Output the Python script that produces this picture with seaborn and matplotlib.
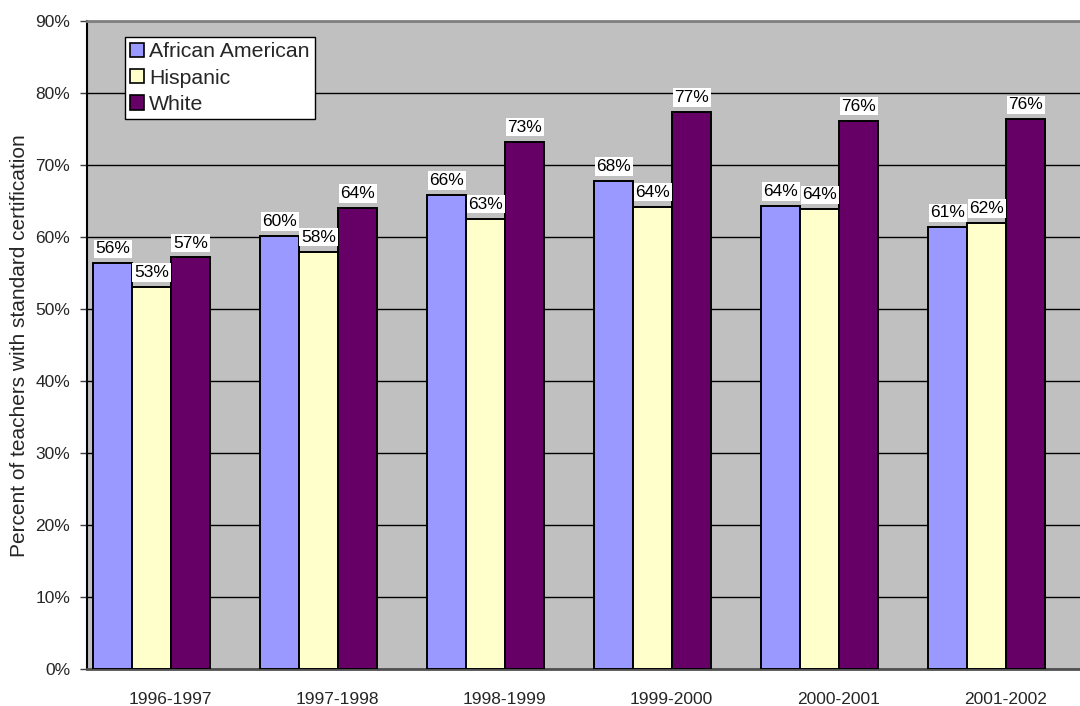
import matplotlib
matplotlib.use("Agg")
import matplotlib.pyplot as plt
import matplotlib.ticker as mticker
import seaborn as sns
import pandas as pd

# ── Data ─────────────────────────────────────────────────────────────────────
years = ["1996-1997", "1997-1998", "1998-1999", "1999-2000", "2000-2001", "2001-2002"]
groups = ["African American", "Hispanic", "White"]
african_american = [56.4, 60.2, 65.9, 67.8, 64.35, 61.4]
hispanic = [53.1, 58.0, 62.6, 64.25, 63.9, 62.0]
white = [57.2, 64.1, 73.3, 77.4, 76.2, 76.4]
y_ticks = [0, 10, 20, 30, 40, 50, 60, 70, 80, 90]

colors = ["#9999FF", "#FFFFCC", "#660066"]

df = pd.DataFrame({
    "year": years * 3,
    "group": [g for g in groups for _ in years],
    "value": african_american + hispanic + white,
})

# ── Style ────────────────────────────────────────────────────────────────────
sns.set_style("white")
plt.rcParams["font.family"] = ["Liberation Sans", "DejaVu Sans"]

fig = plt.figure(figsize=(10.8, 7.06), dpi=100)
ax = fig.add_axes([86.7 / 1080, 1 - 669.3 / 706, 1002 / 1080, 648 / 706])
ax.set_facecolor("#C0C0C0")

sns.barplot(data=df, x="year", y="value", hue="group", palette=colors,
            hue_order=groups, order=years, width=0.7, edgecolor="black",
            linewidth=1.4, saturation=1, ax=ax, zorder=3)

# Excel draws the cluster shifted left inside each category slot
shift = -0.111
for cont in ax.containers:
    for p in cont.patches:
        p.set_x(p.get_x() + shift)

for cont in ax.containers:
    vals = [p.get_height() for p in cont.patches]
    ax.bar_label(cont, labels=[f"{v:.0f}%" for v in vals], padding=5,
                 fontsize=12.5, color="black", zorder=5,
                 bbox=dict(facecolor="white", edgecolor="none", pad=1.2))

# ── Axes ─────────────────────────────────────────────────────────────────────
ax.set_xlim(-0.5, 5.5)
ax.set_ylim(0, 90)
ax.set_yticks(y_ticks)
ax.yaxis.set_major_formatter(mticker.FuncFormatter(lambda v, _: f"{v:.0f}%"))
ax.yaxis.grid(True, color="black", linewidth=1)
ax.set_axisbelow(True)

ax.set_xticks(range(len(years)))
ax.set_xticklabels(years)
ax.set_xticks([i - 0.5 for i in range(len(years) + 1)], minor=True)
ax.tick_params(axis="x", which="major", length=0, pad=16, labelsize=12.5)
ax.tick_params(axis="x", which="minor", length=5, width=1, color="#404040", direction="out")
ax.tick_params(axis="y", length=5, width=1, color="#404040", direction="out",
               pad=7, labelsize=12.5, left=True)

ax.set_xlabel("")
ax.set_ylabel("Percent of teachers with standard certification", fontsize=15)
ax.yaxis.set_label_coords(-0.058, 0.5)

ax.spines["left"].set_color("black")
ax.spines["left"].set_linewidth(1.5)
ax.spines["bottom"].set_color("#505050")
ax.spines["bottom"].set_linewidth(2)
ax.spines["top"].set_visible(True)
ax.spines["top"].set_color("#808080")
ax.spines["top"].set_linewidth(2)
ax.spines["right"].set_visible(False)

leg = ax.legend(loc="upper left", bbox_to_anchor=(0.038, 0.976), borderaxespad=0,
                fontsize=15.3, frameon=True, fancybox=False, shadow=False,
                handlelength=0.65, handleheight=0.65, handletextpad=0.25,
                labelspacing=0.35, borderpad=0.25, title=None)
leg.get_frame().set_edgecolor("black")
leg.get_frame().set_linewidth(1)
leg.get_frame().set_facecolor("white")
leg.get_frame().set_alpha(1)
for h in leg.legend_handles:
    h.set_edgecolor("black")
    h.set_linewidth(1.2)

plt.savefig("out.png", dpi=100)
plt.close()
